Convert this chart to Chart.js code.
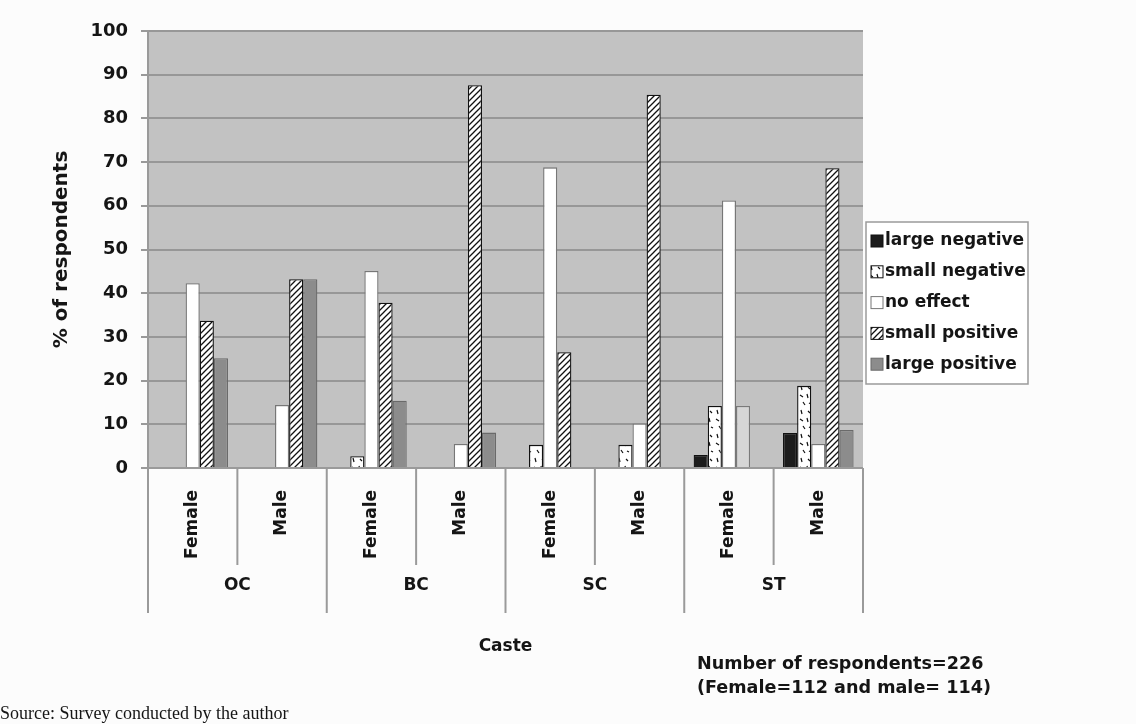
<!DOCTYPE html>
<html>
<head>
<meta charset="utf-8">
<script src="https://cdn.jsdelivr.net/npm/chart.js@4"></script>
<style>
  body { margin: 0; background: #fcfcfc; }
  canvas { display: block; }
</style>
</head>
<body>
<canvas id="casteChart" width="1136" height="724"></canvas>
<script>
// Survey data: % of respondents by caste and sex
const castes = ["OC", "BC", "SC", "ST"];
const sexes = ["Female", "Male"];
const yTicks = [0, 10, 20, 30, 40, 50, 60, 70, 80, 90, 100];

const largeNegative = [0, 0, 0, 0, 0, 0, 3, 8];
const smallNegative = [0, 0, 2.7, 0, 5.3, 5.3, 14.2, 18.8];
const noEffect      = [42.3, 14.4, 45.1, 5.5, 68.8, 10.2, 61.2, 5.5];
const smallPositive = [33.7, 43.2, 37.8, 87.6, 26.5, 85.4, 14.2, 68.6];
const largePositive = [25.1, 43.2, 15.4, 8.1, 0, 0, 0, 8.7];

const labels = castes.flatMap(c => sexes.map(s => s));

const FONT = "'DejaVu Sans', sans-serif";

// fill patterns
function makePattern(w, h, draw) {
  const c = document.createElement("canvas");
  c.width = w; c.height = h;
  const g = c.getContext("2d");
  g.fillStyle = "#ffffff";
  g.fillRect(0, 0, w, h);
  draw(g);
  return c.getContext("2d").createPattern(c, "repeat");
}

const hatch = makePattern(6, 6, g => {
  g.strokeStyle = "#111";
  g.lineWidth = 1.3;
  g.beginPath();
  g.moveTo(-1, 7); g.lineTo(7, -1);
  g.moveTo(-4, 4); g.lineTo(4, -4);
  g.moveTo(2, 10); g.lineTo(10, 2);
  g.stroke();
});

const speckle = makePattern(14, 24, g => {
  g.strokeStyle = "#111";
  g.lineWidth = 1.2;
  const dashes = [[3, 2, 4, 6], [10, 3, 12, 5], [2, 11, 5, 13], [9, 10, 10, 14], [5, 18, 7, 21], [11, 19, 13, 20]];
  g.beginPath();
  dashes.forEach(d => { g.moveTo(d[0], d[1]); g.lineTo(d[2], d[3]); });
  g.stroke();
});

// ST female small positive bar shows as a plain light bar
const smallPosFill = smallPositive.map((v, i) => i === 6 ? "#d6d6d6" : hatch);
const smallPosBorder = smallPositive.map((v, i) => i === 6 ? "#7a7a7a" : "#111");

// background of the plot area
const plotBackground = {
  id: "plotBackground",
  beforeDraw(chart) {
    const { ctx, chartArea: a } = chart;
    ctx.save();
    ctx.fillStyle = "#c2c2c2";
    ctx.fillRect(a.left, a.top, a.right - a.left, a.bottom - a.top);
    ctx.restore();
  }
};

// two-level category axis, legend box and notes
const extras = {
  id: "extras",
  afterDraw(chart) {
    const { ctx, chartArea: a } = chart;
    const x = chart.scales.x;
    const n = labels.length;
    ctx.save();

    // divider lines under the axis
    ctx.strokeStyle = "#9a9a9a";
    ctx.lineWidth = 2;
    for (let i = 0; i <= n; i++) {
      const px = i === 0 ? a.left : i === n ? a.right : (x.getPixelForValue(i - 1) + x.getPixelForValue(i)) / 2;
      const len = i % 2 === 0 ? 145 : 97;
      ctx.beginPath();
      ctx.moveTo(px, a.bottom);
      ctx.lineTo(px, a.bottom + len);
      ctx.stroke();
    }
    ctx.beginPath();
    ctx.moveTo(a.left, a.bottom);
    ctx.lineTo(a.right, a.bottom);
    ctx.stroke();

    ctx.fillStyle = "#151515";
    ctx.font = "bold 17px " + FONT;

    // sex labels, rotated
    labels.forEach((lab, i) => {
      ctx.save();
      ctx.translate(x.getPixelForValue(i), a.bottom + 22);
      ctx.rotate(-Math.PI / 2);
      ctx.textAlign = "right";
      ctx.textBaseline = "middle";
      ctx.fillText(lab, 0, 0);
      ctx.restore();
    });

    // caste labels
    ctx.textAlign = "center";
    ctx.textBaseline = "middle";
    castes.forEach((c, k) => {
      const cx = (x.getPixelForValue(2 * k) + x.getPixelForValue(2 * k + 1)) / 2;
      ctx.fillText(c, cx, a.bottom + 118);
    });
    ctx.fillText("Caste", (a.left + a.right) / 2, a.bottom + 179);

    ctx.font = "bold 17.6px " + FONT;
    ctx.textAlign = "left";
    ctx.fillText("Number of respondents=226", 697, 664);
    ctx.fillText("(Female=112 and male= 114)", 697, 688);

    // legend box
    ctx.font = "bold 17px " + FONT;
    const lx = 866, ly = 222, lw = 162, lh = 162;
    ctx.fillStyle = "#ffffff";
    ctx.fillRect(lx, ly, lw, lh);
    ctx.strokeStyle = "#9a9a9a";
    ctx.lineWidth = 1.5;
    ctx.strokeRect(lx, ly, lw, lh);
    chart.data.datasets.forEach((ds, j) => {
      const ry = ly + 19 + j * 30.8;
      const fill = Array.isArray(ds.backgroundColor) ? ds.backgroundColor[0] : ds.backgroundColor;
      const border = Array.isArray(ds.borderColor) ? ds.borderColor[0] : ds.borderColor;
      ctx.fillStyle = fill;
      ctx.fillRect(lx + 5, ry - 6, 12, 12);
      ctx.strokeStyle = border;
      ctx.lineWidth = 1;
      ctx.strokeRect(lx + 5, ry - 6, 12, 12);
      ctx.fillStyle = "#151515";
      ctx.textBaseline = "middle";
      ctx.fillText(ds.label, lx + 19, ry);
    });

    // source note
    ctx.font = "18px 'Liberation Serif', serif";
    ctx.textBaseline = "alphabetic";
    ctx.fillText("Source: Survey conducted by the author", 0, 719);

    ctx.restore();
  }
};

new Chart(document.getElementById("casteChart"), {
  type: "bar",
  data: {
    labels: labels,
    datasets: [
      { label: "large negative", data: largeNegative, backgroundColor: "#1c1c1c", borderColor: "#111" },
      { label: "small negative", data: smallNegative, backgroundColor: speckle, borderColor: "#111" },
      { label: "no effect", data: noEffect, backgroundColor: "#ffffff", borderColor: "#777" },
      { label: "small positive", data: smallPositive, backgroundColor: smallPosFill, borderColor: smallPosBorder },
      { label: "large positive", data: largePositive, backgroundColor: "#8c8c8c", borderColor: "#6a6a6a" }
    ]
  },
  options: {
    responsive: false,
    animation: false,
    layout: { padding: { left: 46, top: 31, right: 273, bottom: 256 } },
    datasets: {
      bar: { categoryPercentage: 0.79, barPercentage: 1.0, borderWidth: 1.3 }
    },
    plugins: {
      legend: { display: false },
      tooltip: { enabled: false }
    },
    scales: {
      x: { display: false },
      y: {
        min: 0,
        max: 100,
        afterFit: s => { s.width = 102; },
        afterBuildTicks: s => { s.ticks = yTicks.map(v => ({ value: v })); },
        ticks: { color: "#151515", padding: 13, font: { family: FONT, size: 18, weight: "bold" } },
        grid: { color: "#979797", lineWidth: 2, tickLength: 7, tickColor: "#9a9a9a" },
        border: { color: "#9a9a9a", width: 2 },
        title: {
          display: true,
          text: "% of respondents",
          color: "#151515",
          padding: 4,
          font: { family: FONT, size: 20, weight: "bold" }
        }
      }
    }
  },
  plugins: [plotBackground, extras]
});
</script>
</body>
</html>
